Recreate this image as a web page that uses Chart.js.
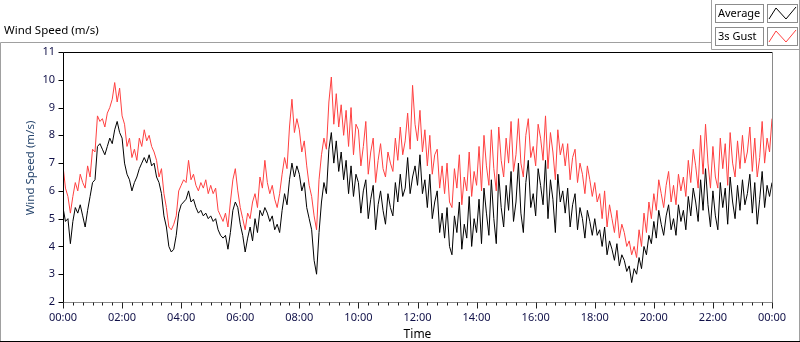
<!DOCTYPE html>
<html>
<head>
<meta charset="utf-8">
<script src="https://cdn.jsdelivr.net/npm/chart.js@4/dist/chart.umd.min.js"></script>
<style>
  html, body { margin: 0; padding: 0; background: #fff; }
  canvas { display: block; }
</style>
</head>
<body>
<canvas id="windChart" width="800" height="342"></canvas>
<script>
// one sample every 5 minutes, 00:00 -> 24:00
const stepMinutes = 5;

const averageSpeed = [
  5.4, 4.9, 5.0, 4.1, 4.9, 5.4, 5.2, 5.5, 5.1, 4.7, 5.3, 5.8,
  6.3, 6.4, 7.6, 7.7, 7.5, 7.3, 7.6, 7.9, 7.7, 8.2, 8.5, 8.1,
  7.9, 7.0, 6.6, 6.4, 6.0, 6.3, 6.5, 6.8, 7.0, 7.2, 7.0, 7.3,
  6.9, 7.0, 6.5, 6.3, 5.9, 5.1, 4.7, 4.0, 3.8, 3.9, 4.4, 5.2,
  5.5, 5.6, 5.7, 6.0, 5.6, 5.7, 5.4, 5.2, 5.3, 5.1, 5.2, 5.0,
  5.1, 4.9, 5.0, 4.6, 4.4, 4.3, 4.4, 3.9, 4.5, 5.3, 5.6, 5.4,
  4.8, 4.4, 3.8, 4.3, 4.7, 4.2, 5.0, 4.5, 5.3, 5.1, 5.4, 5.2,
  4.9, 5.1, 4.6, 4.8, 4.5, 5.3, 5.9, 5.5, 6.4, 7.0, 6.5, 6.9,
  6.6, 6.0, 6.3, 5.4, 5.0, 4.6, 3.5, 3.0, 4.5, 5.6, 6.3, 5.9,
  7.5, 8.1, 7.0, 7.8, 6.7, 7.4, 6.4, 7.1, 5.9, 6.9, 5.8, 6.6,
  6.3, 5.2, 6.0, 6.4, 5.0, 5.7, 6.2, 4.6, 5.5, 6.0, 5.3, 4.8,
  5.9, 5.4, 5.1, 6.3, 5.6, 6.6, 5.8, 6.1, 7.2, 5.9, 6.5, 6.9,
  6.2, 7.3, 5.9, 6.4, 5.4, 6.6, 5.0, 5.6, 6.0, 4.5, 5.2, 4.3,
  5.4, 4.0, 3.7, 5.1, 4.5, 5.6, 3.9, 4.8, 4.3, 5.8, 4.0, 5.0,
  4.5, 5.7, 4.1, 6.1, 5.2, 4.4, 6.4, 5.0, 4.1, 6.6, 5.4, 4.7,
  6.2, 5.3, 6.7, 4.9, 5.6, 7.0, 5.2, 4.5, 6.3, 7.1, 5.4, 5.9,
  5.1, 6.8, 6.2, 5.5, 7.1, 5.0, 6.4, 5.7, 4.5, 6.6, 5.6, 6.0,
  5.2, 6.1, 4.7, 5.5, 5.9, 4.6, 5.4, 5.0, 4.3, 5.3, 4.9, 4.4,
  5.0, 4.4, 4.6, 4.0, 4.7, 3.7, 4.2, 3.9, 3.5, 4.1, 3.3, 3.7,
  3.5, 3.1, 3.3, 2.7, 3.2, 3.0, 3.6, 3.2, 4.0, 3.7, 4.4, 4.1,
  4.9, 4.3, 5.3, 4.8, 4.4, 5.1, 5.5, 4.6, 5.0, 4.4, 5.5, 4.9,
  5.3, 4.6, 5.8, 5.1, 6.1, 5.6, 4.9, 6.4, 5.3, 6.8, 5.5, 4.7,
  6.0, 5.1, 4.6, 6.3, 5.4, 6.1, 4.8, 6.5, 5.6, 5.0, 6.2, 5.3,
  6.4, 5.5, 5.9, 6.6, 5.2, 6.3, 4.8, 5.7, 6.7, 5.4, 6.2, 5.8,
  6.3
];

const gustSpeed = [
  6.9, 6.1, 5.8, 5.2, 5.8, 6.3, 6.0, 6.6, 6.3, 6.1, 6.9, 6.5,
  7.5, 7.4, 8.7, 8.5, 8.6, 8.3, 8.8, 9.0, 9.3, 9.9, 9.2, 9.7,
  8.7, 8.4, 7.6, 7.9, 7.2, 7.5, 7.1, 7.9, 7.6, 8.2, 7.8, 8.0,
  7.6, 7.4, 7.1, 6.5, 6.8, 5.9, 5.4, 4.7, 4.6, 4.8, 5.1, 6.0,
  6.2, 6.4, 6.3, 7.1, 6.4, 6.6, 6.2, 6.0, 6.3, 6.1, 6.4, 5.9,
  6.2, 5.9, 6.1, 5.3, 5.1, 4.9, 5.2, 4.7, 5.6, 6.4, 6.8, 6.0,
  5.4, 5.0, 4.6, 5.2, 5.0, 5.6, 5.9, 5.4, 6.5, 6.1, 7.1, 6.3,
  5.9, 6.2, 5.7, 5.4, 5.9, 6.6, 7.2, 6.8, 8.3, 9.3, 8.1, 8.6,
  8.2, 7.4, 7.8, 6.9, 6.2, 5.8, 5.1, 4.6, 6.4, 7.3, 7.9, 7.5,
  9.2, 10.1, 8.4, 9.5, 8.3, 9.1, 8.0, 8.9, 7.6, 9.0, 7.3, 8.4,
  8.2, 6.9, 7.6, 8.5, 6.6, 7.4, 7.9, 6.3, 7.1, 7.7, 6.8, 6.5,
  7.4, 7.0, 6.7, 7.9, 7.1, 8.3, 7.3, 7.8, 8.8, 7.5, 9.8, 8.4,
  7.8, 8.9, 7.4, 8.2, 6.9, 8.0, 6.6, 7.3, 7.5, 6.1, 6.9, 5.9,
  7.0, 5.6, 5.4, 6.8, 6.1, 7.3, 5.5, 6.5, 6.0, 7.4, 5.8, 6.7,
  6.2, 7.6, 6.0, 8.0, 6.9, 6.2, 8.2, 6.8, 6.0, 8.3, 7.1, 6.5,
  7.9, 7.0, 8.5, 6.7, 7.3, 8.6, 7.0, 6.5, 8.0, 8.6, 7.2, 7.6,
  6.9, 8.4, 7.9, 7.1, 8.7, 6.8, 8.1, 7.4, 6.4, 8.2, 7.3, 7.7,
  6.9, 7.7, 6.4, 7.2, 7.5, 6.3, 7.0, 6.6, 5.9, 6.9, 6.4, 5.8,
  6.3, 5.6, 5.9, 5.0, 6.0, 4.7, 5.5, 5.0, 4.5, 5.3, 4.3, 4.8,
  4.5, 4.0, 4.2, 3.7, 4.0, 3.6, 4.6, 4.0, 5.2, 4.5, 5.6, 5.0,
  5.9, 5.3, 6.4, 5.9, 5.4, 6.2, 6.7, 5.6, 6.2, 5.5, 6.6, 6.0,
  6.5, 5.8, 7.1, 6.3, 7.5, 6.9, 6.1, 8.0, 6.6, 8.4, 7.0, 6.1,
  7.6, 6.5, 6.1, 7.9, 6.8, 7.7, 6.2, 8.1, 7.0, 6.5, 7.8, 6.8,
  8.0, 7.0, 7.4, 8.3, 6.7, 7.9, 6.5, 7.2, 8.5, 7.0, 7.9, 7.4,
  8.6
];

const seriesNames = ["Average", "3s Gust"];
const seriesColors = ["#000000", "#ff4040"];
const yTickValues = [2, 3, 4, 5, 6, 7, 8, 9, 10, 11];
const xTickHours = [0, 2, 4, 6, 8, 10, 12, 14, 16, 18, 20, 22, 24];

const timeHours = averageSpeed.map((_, i) => i * stepMinutes / 60);
const toPoints = arr => arr.map((v, i) => ({ x: timeHours[i], y: v }));

const FONT = "'Noto Sans', 'DejaVu Sans', sans-serif";
const labelColor = "#101048";

const framePlugin = {
  id: "frame",
  afterDraw(chart) {
    const { ctx, chartArea: a, scales } = chart;
    const xs = scales.x;
    const ys = scales.y;
    ctx.save();
    ctx.lineWidth = 1;

    // outer panel
    ctx.strokeStyle = "#a0a0a0";
    ctx.beginPath();
    ctx.moveTo(0.5, 342); ctx.lineTo(0.5, 42.5); ctx.lineTo(711.5, 42.5);
    ctx.moveTo(711.5, 0); ctx.lineTo(711.5, 49.5); ctx.lineTo(800, 49.5);
    ctx.moveTo(799.5, 0); ctx.lineTo(799.5, 342);
    ctx.stroke();
    ctx.strokeStyle = "#000";
    ctx.beginPath();
    ctx.moveTo(0, 341.5); ctx.lineTo(800, 341.5);
    ctx.stroke();

    // panel title
    ctx.fillStyle = "#000";
    ctx.font = "11.5px " + FONT;
    ctx.textBaseline = "middle";
    ctx.textAlign = "left";
    ctx.fillText("Wind Speed (m/s)", 4, 31);

    // y axis title, sits a little above the plot centre as in the original
    ctx.save();
    ctx.translate(31, 168);
    ctx.rotate(-Math.PI / 2);
    ctx.fillStyle = "#27466e";
    ctx.textAlign = "center";
    ctx.fillText("Wind Speed (m/s)", 0, 0);
    ctx.restore();

    // plot frame: black top/left, grey right/bottom
    const L = Math.round(a.left) + 0.5, R = Math.round(a.right) + 0.5;
    const T = Math.round(a.top) + 0.5, B = Math.round(a.bottom) + 0.5;
    ctx.strokeStyle = "#000";
    ctx.beginPath();
    ctx.moveTo(L, B); ctx.lineTo(L, T); ctx.lineTo(R, T);
    ctx.stroke();
    ctx.strokeStyle = "#8a8a8a";
    ctx.beginPath();
    ctx.moveTo(R, T); ctx.lineTo(R, B); ctx.lineTo(L, B);
    ctx.stroke();

    // y tick marks
    ctx.strokeStyle = "#000";
    ctx.beginPath();
    yTickValues.forEach(v => {
      const y = Math.round(ys.getPixelForValue(v)) + 0.5;
      ctx.moveTo(L - 5, y); ctx.lineTo(L, y);
    });
    ctx.stroke();

    // x tick marks, major every 2 h, minor every 20 min
    ctx.strokeStyle = "#202020";
    ctx.beginPath();
    for (let m = 0; m <= 1440; m += 20) {
      const x = Math.round(xs.getPixelForValue(m / 60)) + 0.5;
      const len = m % 120 === 0 ? 6 : 3;
      ctx.moveTo(x, B); ctx.lineTo(x, B + len);
    }
    ctx.stroke();

    // legend
    ctx.font = "11px " + FONT;
    chart.data.datasets.forEach((ds, i) => {
      const top = 4 + i * 23;
      ctx.strokeStyle = "#8c8c8c";
      ctx.strokeRect(715.5, top + 0.5, 48, 18);
      ctx.strokeRect(767.5, top + 0.5, 30, 18);
      ctx.fillStyle = "#000";
      ctx.textAlign = "left";
      ctx.fillText(ds.label, 718, top + 10);
      ctx.strokeStyle = ds.borderColor;
      ctx.beginPath();
      ctx.moveTo(769, top + 15);
      ctx.lineTo(776, top + 4);
      ctx.lineTo(786, top + 15);
      ctx.lineTo(796, top + 3);
      ctx.stroke();
    });

    ctx.restore();
  }
};

new Chart(document.getElementById("windChart"), {
  type: "line",
  data: {
    datasets: [
      {
        label: seriesNames[0],
        data: toPoints(averageSpeed),
        borderColor: seriesColors[0],
        borderWidth: 1,
        pointRadius: 0,
        tension: 0
      },
      {
        label: seriesNames[1],
        data: toPoints(gustSpeed),
        borderColor: seriesColors[1],
        borderWidth: 1,
        pointRadius: 0,
        tension: 0
      }
    ]
  },
  options: {
    responsive: false,
    animation: false,
    layout: { padding: { left: 0, top: 52, right: 28, bottom: 0 } },
    plugins: {
      legend: { display: false },
      tooltip: { enabled: false }
    },
    scales: {
      x: {
        type: "linear",
        min: 0,
        max: 24,
        afterBuildTicks: s => { s.ticks = xTickHours.map(v => ({ value: v })); },
        afterFit: s => { s.height = 40; },
        grid: { display: false, drawTicks: false },
        border: { display: false },
        ticks: {
          padding: 9,
          maxRotation: 0,
          autoSkip: false,
          color: labelColor,
          font: { family: FONT, size: 11 },
          callback: v => String(v % 24).padStart(2, "0") + ":00"
        },
        title: {
          display: true,
          text: "Time",
          color: "#000",
          font: { family: FONT, size: 12 },
          padding: { top: 0, bottom: 0 }
        }
      },
      y: {
        min: 2,
        max: 11,
        afterBuildTicks: s => { s.ticks = yTickValues.map(v => ({ value: v })); },
        afterFit: s => { s.width = 63; },
        grid: { display: false, drawTicks: false },
        border: { display: false },
        ticks: {
          padding: 8,
          color: labelColor,
          font: { family: FONT, size: 11 }
        },
        title: { display: false }
      }
    }
  },
  plugins: [framePlugin]
});
</script>
</body>
</html>
